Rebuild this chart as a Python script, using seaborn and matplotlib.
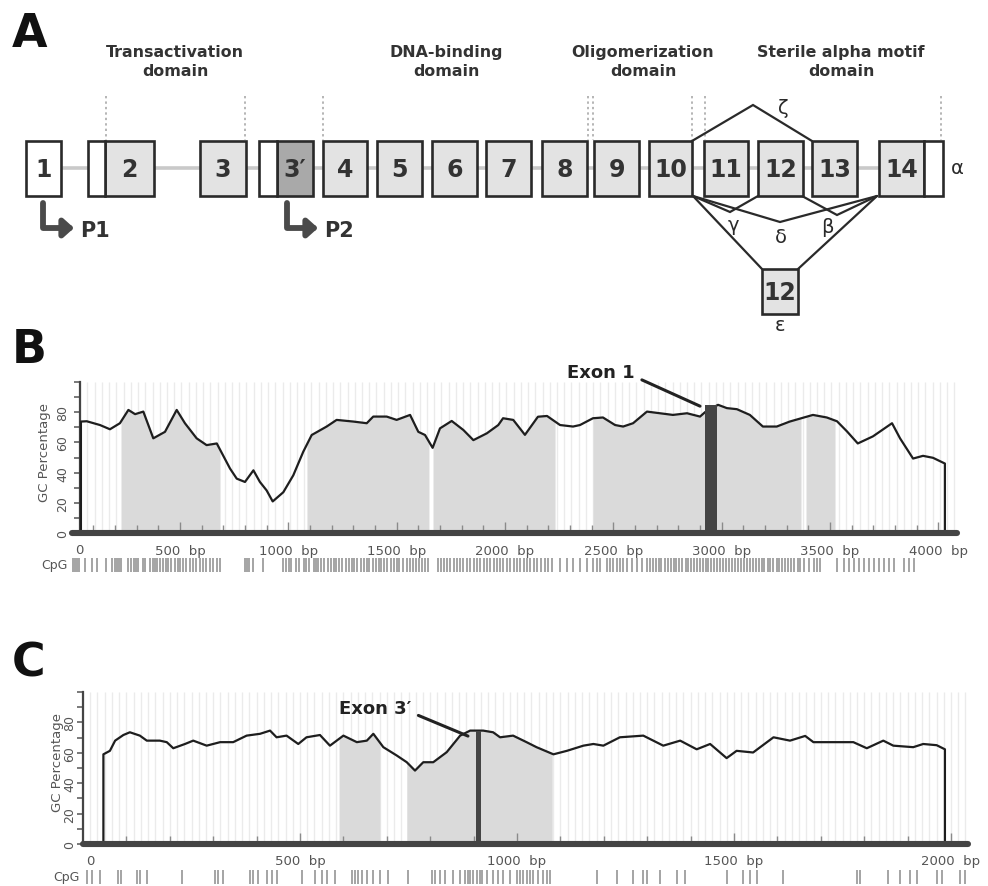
import numpy as np
import matplotlib
matplotlib.use("Agg")
import matplotlib.pyplot as plt
import seaborn as sns
from matplotlib.patches import Rectangle

sns.set_theme(style="white")
plt.rcParams["font.family"] = ["DejaVu Sans"]

W, H = 988, 887

# ---------------- Panel A: gene structure (schematic units) ----------------
coding_labels = ["2", "3", "3′", "4", "5", "6", "7", "8", "9", "10", "11", "12", "13", "14"]
coding_start = [105, 200, 277, 323, 377, 432, 486, 542, 594, 649, 704, 758, 812, 879]
coding_end = [154, 246, 313, 367, 422, 477, 531, 587, 639, 692, 748, 803, 857, 924]
utr_start = [26, 88, 259, 924]
utr_end = [61, 105, 277, 943]
domain_names = ["Transactivation\ndomain", "DNA-binding\ndomain",
                "Oligomerization\ndomain", "Sterile alpha motif\ndomain"]
domain_centers = [175, 446, 643, 841]
domain_bounds = [106, 245, 323, 588, 593, 692, 705, 941]
promoters = ["P1", "P2"]
promoter_x = [43, 287]

# ---------------- Panel B: GC profile around exon 1 ----------------
b_pos = [43, 43, 70, 131, 177, 223, 262, 293, 331, 377,
         431, 485, 523, 577, 623, 670, 731, 762, 800, 839,
         869, 900, 928, 977, 1023, 1069, 1108, 1177, 1223, 1300,
         1362, 1392, 1454, 1500, 1562, 1600, 1631, 1666, 1700, 1754,
         1808, 1854, 1916, 1969, 1991, 2038, 2092, 2152, 2194, 2254,
         2314, 2346, 2406, 2452, 2508, 2545, 2591, 2655, 2715, 2775,
         2840, 2900, 2923, 2983, 3024, 3070, 3130, 3190, 3254, 3314,
         3421, 3485, 3532, 3578, 3628, 3698, 3786, 3823, 3883, 3929,
         3975, 4030, 4030]
b_gc = [0, 73.8, 74, 71.5, 68.7, 72.7, 81.5, 78.7, 80.4, 62.7,
        67, 81.5, 72.7, 62.7, 58.2, 59.3, 42.7, 36, 33.8, 41.5,
        33.8, 28.2, 20.9, 27, 38.2, 53.8, 64.9, 70.5, 74.9, 73.8,
        72.7, 77.1, 77.1, 74.9, 78.2, 67, 64.9, 56.4, 69.3, 74.2,
        68.2, 61.5, 66, 71.5, 76, 74.9, 65, 77, 77.5, 71.5,
        70.5, 71.5, 76, 76.5, 71.5, 70.5, 72.7, 80.4, 79.3, 78.2,
        79.3, 77.1, 80, 84.9, 82.7, 82, 78.2, 70.5, 70.5, 73.8,
        78.2, 76.5, 74, 67.3, 59.3, 64, 72.7, 62.7, 49.3, 51.1,
        49.8, 46, 0]
b_island_start = [228, 1086, 1668, 2406, 3389]
b_island_end = [685, 1649, 2231, 3366, 3523]
b_exon = ("Exon 1", 2923, 2979, 85)
b_cpg = [6, 16, 25, 34, 62, 94, 117, 159, 186, 200, 210, 219, 228, 260, 274, 288,
         297, 306, 330, 339, 362, 376, 385, 394, 408, 422, 436, 445, 459, 477, 491,
         500, 514, 528, 547, 560, 574, 593, 606, 620, 639, 653, 671, 685,
         800, 810, 819, 837, 884,
         976, 990, 1004, 1013, 1036, 1050, 1072, 1082, 1095, 1118, 1127, 1137, 1151,
         1165, 1183, 1197, 1211, 1220, 1234, 1248, 1266, 1280, 1294, 1303, 1317, 1335,
         1349, 1363, 1372, 1391, 1405, 1418, 1428, 1441, 1455, 1474, 1487, 1501, 1510,
         1529, 1547, 1561, 1575, 1589, 1603, 1617, 1630, 1644,
         1691, 1705, 1719, 1733, 1746, 1765, 1779, 1793, 1807, 1825, 1839, 1857, 1871,
         1885, 1903, 1917, 1931, 1949, 1963, 1977, 1991, 2010, 2024, 2042, 2056, 2070,
         2089, 2102, 2116, 2135, 2148, 2167, 2185, 2199, 2217,
         2254, 2286, 2314, 2346, 2379, 2406, 2425, 2439, 2471, 2485, 2499, 2517, 2531,
         2545, 2563, 2586, 2609, 2632,
         2655, 2668, 2684, 2697, 2711, 2722, 2738, 2750, 2766, 2779, 2791, 2805, 2818,
         2833, 2846, 2860, 2872, 2887, 2899, 2914, 2926, 2938, 2952, 2965, 2979, 2990,
         3006, 3019, 3033, 3046, 3060, 3075, 3087, 3101, 3116, 3129, 3143, 3156, 3170,
         3184, 3197, 3212, 3225, 3238, 3253, 3266, 3280, 3294, 3307, 3322, 3335, 3350,
         3362, 3380, 3403, 3426, 3440, 3454,
         3532, 3564, 3587, 3610, 3633, 3656, 3679, 3702, 3725, 3748, 3771, 3794, 3840,
         3863, 3886]

# ---------------- Panel C: GC profile around exon 3' ----------------
c_pos = [47, 47, 62, 74, 93, 108, 131, 147, 177, 193,
         208, 235, 254, 285, 316, 346, 377, 408, 431, 446,
         469, 496, 515, 546, 569, 600, 631, 654, 669, 692,
         723, 746, 765, 784, 807, 838, 869, 892, 912, 922,
         945, 961, 991, 1022, 1045, 1084, 1115, 1153, 1176, 1199,
         1237, 1291, 1337, 1376, 1414, 1445, 1483, 1506, 1544, 1591,
         1629, 1664, 1683, 1721, 1775, 1806, 1844, 1867, 1913, 1936,
         1967, 1986, 1986]
c_gc = [0, 59, 61.3, 68, 71.7, 73.5, 71.3, 68, 68, 67,
        63, 65.8, 68, 64.7, 67, 67, 71.3, 72.5, 74.6, 70.2,
        71.3, 65.8, 70.2, 71.7, 64.7, 71.3, 67, 68, 72.5, 63.7,
        58.2, 53.8, 48.3, 53.8, 53.8, 60.4, 71.3, 74.6, 74.6, 74.6,
        73.5, 70.2, 71.3, 67, 63.7, 59, 61.3, 64.7, 65.8, 64.7,
        70.2, 71.3, 64.7, 68, 62.3, 65.8, 56.5, 61.3, 60.2, 70.2,
        68, 71.1, 67, 67, 67, 63, 68, 64.7, 63.7, 65.8,
        65, 62.3, 0]
c_island_start = [590, 746]
c_island_end = [684, 1081]
c_exon = ("Exon 3′", 906, 918, 74.5)
c_cpg = [9, 21, 39, 81, 88, 124, 131, 147, 228, 304, 311, 323, 385, 392, 403, 424,
         435, 447, 505, 535, 551, 562, 581, 620, 627, 634, 643, 654, 668, 684, 703,
         749, 804, 811, 823, 834, 853, 869, 880, 887, 892, 899, 908, 914, 920, 931,
         945, 956, 968, 984, 1000, 1007, 1014, 1023, 1030, 1037, 1048, 1060, 1069,
         1076, 1184, 1230, 1267, 1290, 1299, 1329, 1369, 1387, 1484, 1521, 1537, 1553,
         1613, 1783, 1790, 1855, 1882, 1905, 1922, 1968, 1979, 2021, 2032]

INK = "#2a2a2a"
GREY_TXT = "#555555"


def frame(left, top, right, bottom):
    return [left / W, 1 - bottom / H, (right - left) / W, (bottom - top) / H]


fig = plt.figure(figsize=(W / 100, H / 100), dpi=100)
fig.patch.set_facecolor("white")

# overlay axes in figure pixel units for the schematic and captions
axA = fig.add_axes([0, 0, 1, 1])
axA.set_xlim(0, W)
axA.set_ylim(H, 0)
axA.axis("off")

for letter, base in zip("ABC", [47, 363, 677]):
    axA.text(12, base, letter, fontsize=33, fontweight="bold", color="#111",
             va="baseline", ha="left")

# domain captions and dotted boundaries
for name, cx in zip(domain_names, domain_centers):
    axA.text(cx, 62, name, ha="center", va="center", fontsize=11.4,
             fontweight="bold", color="#333", linespacing=1.35)
axA.vlines(domain_bounds, 97, 141, colors="#b5b5b5", linestyles=(0, (1.2, 1.6)),
           lw=1.4, zorder=1)

# intron backbone
y_top, y_bot = 142, 197
axA.plot([min(utr_end[0], coding_start[0]), max(coding_start)], [169, 169],
         color="#c9c9c9", lw=2.6, zorder=1, solid_capstyle="butt")

for s, e, lab in zip(coding_start, coding_end, coding_labels):
    fc = "#a9a9a9" if lab == "3′" else "#e3e3e3"
    axA.add_patch(Rectangle((s, y_top), e - s, y_bot - y_top, facecolor=fc,
                            edgecolor=INK, lw=1.9, zorder=3))
    axA.text((s + e) / 2, 170, lab, ha="center", va="center", fontsize=17,
             fontweight="bold", color="#333", zorder=4)
for s, e in zip(utr_start, utr_end):
    axA.add_patch(Rectangle((s, y_top), e - s, y_bot - y_top, facecolor="white",
                            edgecolor=INK, lw=1.9, zorder=3))
axA.text((utr_start[0] + utr_end[0]) / 2, 170, "1", ha="center", va="center",
         fontsize=17, fontweight="bold", color="#333", zorder=4)

# alternative exon 12 (epsilon isoform)
eps_x0, eps_x1, eps_y0, eps_y1 = 762, 798, 270, 315
axA.add_patch(Rectangle((eps_x0, eps_y0), eps_x1 - eps_x0, eps_y1 - eps_y0,
                        facecolor="#e3e3e3", edgecolor=INK, lw=1.9, zorder=3))
axA.text((eps_x0 + eps_x1) / 2, 293, "12", ha="center", va="center", fontsize=17,
         fontweight="bold", color="#333", zorder=4)

# splice connections between exons
splice_paths = [
    [(692, 142), (753, 106), (812, 142)],
    [(693, 197), (730, 213), (758, 197)],
    [(693, 197), (780, 223), (877, 197)],
    [(802, 197), (837, 216), (877, 197)],
    [(693, 197), (eps_x0, eps_y0)],
    [(eps_x1, eps_y0), (877, 197)],
]
for path in splice_paths:
    xs, ys = zip(*path)
    axA.plot(xs, ys, color=INK, lw=1.6, zorder=2, solid_joinstyle="miter")

for sym, (gx, gy) in zip(["ζ", "γ", "δ", "β", "ε", "α"],
                         [(783, 108), (733, 226), (781, 238), (827, 228),
                          (780, 326), (957, 168)]):
    axA.text(gx, gy, sym, ha="center", va="center", fontsize=14, color=INK)

# promoters
for name, px in zip(promoters, promoter_x):
    axA.annotate("", xy=(px + 31, 229), xytext=(px, 204),
                 arrowprops=dict(arrowstyle="-|>,head_length=0.5,head_width=0.45",
                                 connectionstyle="angle,angleA=90,angleB=0,rad=0",
                                 lw=4.2, color="#4a4a4a", shrinkA=0, shrinkB=0))
    axA.text(px + 37, 231, name, ha="left", va="center", fontsize=15,
             fontweight="bold", color="#333")


def gc_panel(box, x0_px, px_per_bp, x_right_px, spine_bp, pos, gc, isl_s, isl_e,
             exon, cpg, cpg_box, stripe_step, label_step, zero_bp, ylab_xy,
             cpg_xy, exon_text, ytick_pad):
    left, top, bottom = box
    xmax = (x_right_px - x0_px) / px_per_bp
    ax = fig.add_axes(frame(x0_px, top, x_right_px, bottom))
    ax.set_facecolor("none")
    ax.set_xlim(0, xmax)
    ax.set_ylim(0, 100)
    unit_px = (bottom - top) / 100.0

    # faint background stripes
    ax.vlines(np.arange(spine_bp, xmax, stripe_step), 0, 100, colors="#ebebeb",
              lw=1.0, zorder=0)

    pos = np.asarray(pos, float)
    gc = np.asarray(gc, float)
    core_x, core_y = pos[1:-1], gc[1:-1]
    for s, e in zip(isl_s, isl_e):
        xs = np.concatenate([[s], core_x[(core_x > s) & (core_x < e)], [e]])
        ax.fill_between(xs, 0, np.interp(xs, core_x, core_y), color="#dadada",
                        lw=0, zorder=1)

    sns.lineplot(x=pos, y=gc, ax=ax, estimator=None, sort=False, color="#1e1e1e",
                 lw=1.6, zorder=3)

    name, es, ee, eh = exon
    ax.bar((es + ee) / 2, eh, width=ee - es, color="#444444", zorder=4, lw=0)
    ax.annotate(name, xy=exon_text[1], xytext=exon_text[0], ha="center",
                va="center", fontsize=13, fontweight="bold", color="#222",
                annotation_clip=False,
                arrowprops=dict(arrowstyle="-", lw=2.2, color="#222", shrinkA=3,
                                shrinkB=0, relpos=(1.0, 0.25)))

    # base bar with bp ticks and labels
    ax.axhline(0, color="#444444", lw=4.4, zorder=5, clip_on=False)
    ticks = np.arange(100, xmax, 100)
    major = ticks[ticks % label_step == 0]
    minor = ticks[ticks % label_step != 0]
    ax.vlines(minor, 0, 3 / unit_px + 3.5, colors="#8a8a8a", lw=1.0, zorder=4)
    ax.vlines(major, 0, 3 / unit_px + 5.5, colors="#8a8a8a", lw=1.0, zorder=4)
    lab_y = -17 / unit_px
    ax.text(zero_bp, lab_y, "0", ha="center", va="center", fontsize=9.5,
            color=GREY_TXT, clip_on=False)
    for t in major:
        ax.text(t, lab_y, f"{int(t)}  bp", ha="center", va="center",
                fontsize=9.5, color=GREY_TXT, clip_on=False)

    # y axis
    for side in ["top", "right", "bottom"]:
        ax.spines[side].set_visible(False)
    ax.spines["left"].set_position(("data", spine_bp))
    ax.spines["left"].set_color("#444444")
    ax.spines["left"].set_linewidth(1.6)
    ax.set_xticks([])
    ax.set_yticks([0, 20, 40, 60, 80])
    ax.set_yticks([10, 30, 50, 70, 90, 100], minor=True)
    ax.tick_params(axis="y", which="both", direction="out", length=4, width=1.1,
                   color="#555555", left=True, labelsize=9, labelcolor=GREY_TXT,
                   pad=ytick_pad)
    for lab in ax.get_yticklabels():
        lab.set_rotation(90)
        lab.set_va("center")
    ax.set_ylabel("")
    ax.set_xlabel("")
    axA.text(ylab_xy[0], ylab_xy[1], "GC Percentage", rotation=90, ha="center",
             va="center", fontsize=9.5, color=GREY_TXT)

    # CpG site track
    cax = fig.add_axes(frame(x0_px, cpg_box[0], x_right_px, cpg_box[1]), sharex=ax)
    cax.set_facecolor("none")
    cax.vlines(cpg, 0, 1, colors="#8c8c8c", lw=1.1)
    cax.set_ylim(0, 1)
    cax.axis("off")
    axA.text(cpg_xy[0], cpg_xy[1], "CpG", ha="right", va="center", fontsize=9,
             color=GREY_TXT)
    return ax


gc_panel((71.6, 383, 534), 71.6, 0.2167, 957, 40, b_pos, b_gc, b_island_start,
         b_island_end, b_exon, b_cpg, (559, 573), 100 / 3, 500, 34, (44, 453),
         (68, 566), ((2443, 106.5), (2900, 84)), 4)
gc_panel((83, 693, 845), 83, 0.434, 968, 0, c_pos, c_gc, c_island_start,
         c_island_end, c_exon, c_cpg, (871, 885), 50 / 3, 500, 16, (57, 763),
         (80, 878), ((673, 89.5), (887, 71)), 1)

fig.savefig("out.png", dpi=100, facecolor="white")
